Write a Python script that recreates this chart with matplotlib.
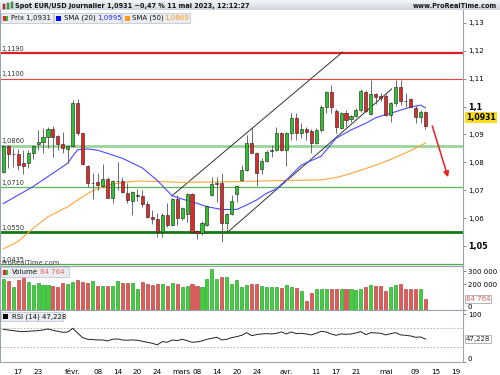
import matplotlib
matplotlib.use('Agg')
import matplotlib.pyplot as plt
import numpy as np
from matplotlib.patches import Rectangle
from matplotlib.transforms import blended_transform_factory
from matplotlib.colors import LinearSegmentedColormap

# ---------------- data ----------------
opens = [1.0767, 1.0858, 1.0829, 1.0829, 1.0799, 1.0796, 1.0832, 1.0866, 1.0872, 1.0890,
         1.0919, 1.0894, 1.0866, 1.0848, 1.0858, 1.1011, 1.0904, 1.0787, 1.0725, 1.0728,
         1.0715, 1.0739, 1.0673, 1.0732, 1.0733, 1.0691, 1.0663, 1.0680, 1.0680, 1.0651,
         1.0605, 1.0597, 1.0551, 1.0611, 1.0575, 1.0668, 1.0599, 1.0615, 1.0685, 1.0553,
         1.0545, 1.0575, 1.0683, 1.0722, 1.0725, 1.0581, 1.0615, 1.0686, 1.0737, 1.0772,
         1.0868, 1.0835, 1.0775, 1.0806, 1.0841, 1.0844, 1.0904, 1.0844, 1.0906, 1.0958,
         1.0904, 1.0919, 1.0912, 1.0868, 1.0916, 1.0999, 1.1051, 1.0985, 1.0922, 1.0976,
         1.0954, 1.0967, 1.0988, 1.1052, 1.0973, 1.1045, 1.1038, 1.1038, 1.0970, 1.1011,
         1.1069, 1.1021, 1.1027, 1.0994, 1.0964, 1.0982]
highs = [1.0862, 1.0862, 1.0850, 1.0848, 1.0844, 1.0844, 1.0861, 1.0916, 1.0922, 1.0925,
         1.0930, 1.0898, 1.0910, 1.0861, 1.1025, 1.1026, 1.0906, 1.0791, 1.0763, 1.0761,
         1.0793, 1.0746, 1.0737, 1.0802, 1.0746, 1.0725, 1.0698, 1.0703, 1.0701, 1.0663,
         1.0629, 1.0617, 1.0617, 1.0653, 1.0671, 1.0683, 1.0641, 1.0689, 1.0691, 1.0557,
         1.0591, 1.0647, 1.0749, 1.0749, 1.0761, 1.0620, 1.0683, 1.0719, 1.0790, 1.0898,
         1.0928, 1.0838, 1.0814, 1.0844, 1.0862, 1.0925, 1.0910, 1.0910, 1.0976, 1.0976,
         1.0940, 1.0928, 1.0918, 1.0922, 1.1005, 1.1057, 1.1077, 1.0990, 1.0980, 1.0988,
         1.0970, 1.0994, 1.1062, 1.1060, 1.1095, 1.1050, 1.1047, 1.1045, 1.1017, 1.1095,
         1.1095, 1.1050, 1.1030, 1.1002, 1.0988, 1.0985]
lows = [1.0763, 1.0778, 1.0784, 1.0772, 1.0757, 1.0778, 1.0811, 1.0844, 1.0832, 1.0850,
        1.0818, 1.0844, 1.0835, 1.0799, 1.0855, 1.0898, 1.0790, 1.0710, 1.0667, 1.0701,
        1.0713, 1.0671, 1.0655, 1.0701, 1.0689, 1.0653, 1.0611, 1.0661, 1.0639, 1.0602,
        1.0579, 1.0533, 1.0533, 1.0569, 1.0573, 1.0575, 1.0593, 1.0587, 1.0545, 1.0524,
        1.0539, 1.0572, 1.0679, 1.0659, 1.0516, 1.0551, 1.0611, 1.0659, 1.0734, 1.0770,
        1.0832, 1.0715, 1.0758, 1.0802, 1.0818, 1.0842, 1.0840, 1.0788, 1.0880, 1.0880,
        1.0886, 1.0880, 1.0832, 1.0866, 1.0910, 1.0978, 1.0976, 1.0904, 1.0918, 1.0928,
        1.0943, 1.0964, 1.0982, 1.0980, 1.0970, 1.1010, 1.1021, 1.0966, 1.0943, 1.1002,
        1.1005, 1.0997, 1.0997, 1.0942, 1.0942, 1.0918]
closes = [1.0858, 1.0830, 1.0831, 1.0790, 1.0788, 1.0832, 1.0857, 1.0874, 1.0890, 1.0921,
          1.0892, 1.0866, 1.0850, 1.0858, 1.1013, 1.0904, 1.0793, 1.0727, 1.0727, 1.0719,
          1.0739, 1.0673, 1.0733, 1.0733, 1.0692, 1.0665, 1.0695, 1.0681, 1.0651, 1.0605,
          1.0596, 1.0551, 1.0611, 1.0575, 1.0668, 1.0599, 1.0637, 1.0685, 1.0551, 1.0546,
          1.0584, 1.0643, 1.0722, 1.0725, 1.0581, 1.0614, 1.0661, 1.0716, 1.0772, 1.0868,
          1.0835, 1.0761, 1.0806, 1.0838, 1.0843, 1.0904, 1.0844, 1.0906, 1.0958, 1.0904,
          1.0919, 1.0907, 1.0868, 1.0916, 1.0999, 1.1051, 1.0997, 1.0925, 1.0976, 1.0952,
          1.0967, 1.0988, 1.1057, 1.0985, 1.1045, 1.1033, 1.1029, 1.0970, 1.1011, 1.1069,
          1.1021, 1.1020, 1.0997, 1.0964, 1.0982, 1.0931]
volumes = [243, 227, 181, 235, 262, 219, 195, 208, 192, 192,
           186, 181, 205, 203, 216, 232, 216, 208, 224, 189,
           189, 189, 186, 224, 208, 208, 208, 159, 214, 203,
           192, 203, 203, 189, 208, 200, 181, 189, 200, 189,
           181, 240, 316, 240, 257, 257, 203, 230, 176, 195,
           203, 200, 186, 176, 176, 176, 168, 195, 176, 168,
           146, 68, 135, 159, 159, 159, 159, 159, 159, 159,
           159, 154, 159, 176, 192, 189, 189, 149, 176, 192,
           203, 159, 159, 159, 159, 84.764]  # thousands
rsi = [67.9, 66.5, 65.1, 63.7, 63.0, 63.7, 64.4, 65.1, 66.5, 68.6,
       65.8, 63.7, 61.6, 62.3, 70.0, 59.5, 50.4, 46.9, 46.2, 45.5,
       45.5, 43.4, 46.9, 47.6, 45.5, 44.8, 45.5, 44.8, 42.7, 40.6,
       38.5, 35.0, 42.0, 40.6, 45.5, 44.1, 46.9, 44.1, 40.6, 41.3,
       43.4, 46.9, 49.0, 51.1, 45.5, 46.9, 50.4, 52.5, 55.3, 60.9,
       54.6, 56.7, 58.1, 58.8, 58.1, 59.5, 62.3, 58.1, 62.3, 58.8,
       59.5, 58.1, 56.0, 59.5, 63.7, 62.3, 58.1, 55.3, 58.1, 57.4,
       58.1, 60.2, 63.0, 56.7, 60.9, 60.2, 59.5, 56.0, 58.8, 60.9,
       56.0, 55.3, 53.9, 51.1, 51.8, 47.228]
sma20_idx = [0, 6, 9, 13, 14, 15, 17, 19, 21, 24, 28, 31, 34, 37, 39, 41, 44, 47, 49,
             51, 53, 55, 57, 60, 64, 67, 70, 73, 75, 78, 82, 84, 85]
sma20_val = [1.0652, 1.0713, 1.0749, 1.0797, 1.0823, 1.0845, 1.0848, 1.0843, 1.0832,
             1.0814, 1.0780, 1.0735, 1.0680, 1.0663, 1.0653, 1.0641, 1.0631, 1.0631,
             1.0647, 1.0665, 1.0689, 1.0705, 1.0737, 1.0790, 1.0822, 1.0886, 1.0916,
             1.0940, 1.0960, 1.0976, 1.0998, 1.1005, 1.0995]
sma50_idx = [0, 3, 6, 9, 13, 16, 18, 21, 24, 27, 31, 36, 45, 54, 64, 67, 70, 72, 75, 78, 82, 85]
sma50_val = [1.0490, 1.0516, 1.0563, 1.0605, 1.0641, 1.0677, 1.0698, 1.0719, 1.0727,
             1.0733, 1.0731, 1.0728, 1.0730, 1.0734, 1.0737, 1.0745, 1.0760, 1.0772,
             1.0790, 1.0810, 1.0842, 1.0869]
levels = [1.1190, 1.1100, 1.0860, 1.0710, 1.0550, 1.0435]
level_labels = ['1,1190', '1,1100', '1,0860', '1,0710', '1,0550', '1,0435']
price_ticks = [1.05, 1.06, 1.07, 1.08, 1.09, 1.10, 1.11, 1.12, 1.13]
price_tick_labels = ['1,05', '1,06', '1,07', '1,08', '1,09', '1,1', '1,11', '1,12', '1,13']
date_idx = [3, 7, 14, 19, 23, 27, 31, 34, 39, 43, 47, 51, 57, 63, 67, 71, 77, 83, 87, 91]
date_labels = ['17', '23', 'févr.', '08', '14', '20', '24', 'mars', '08', '14', '20', '24',
               'avr.', '11', '17', '21', 'mai', '09', '15', '19']
channel_upper = ([33.9, 68.3], [1.0679, 1.1195])
channel_lower = ([45.2, 78.2], [1.0550, 1.1063])
arrow_pts = ([86.2, 89.7], [1.0940, 1.0737])
last_price = 1.0931

# ---------------- figure ----------------
W, H = 500, 375
plt.rcParams['font.family'] = ['DejaVu Sans']
fig = plt.figure(figsize=(5, 3.75), dpi=100)
fig.patch.set_facecolor('white')

def rect(x0, y0, x1, y1):
    return [x0 / W, 1 - y1 / H, (x1 - x0) / W, (y1 - y0) / H]

def fx(x):
    return x / W

def fy(y):
    return 1 - y / H

opens = np.array(opens); highs = np.array(highs); lows = np.array(lows); closes = np.array(closes)
n = len(closes)
idx = np.arange(n)
up = closes >= opens
GREEN = '#2fc42f'
RED = '#e02a2a'
XL = (-0.66, 92.55)
SPINE = '#9aa4ae'
FS = 5.0
LFS = 5.0

ax = fig.add_axes(rect(0, 10, 463, 266))
axv = fig.add_axes(rect(0, 266, 463, 310))
axr = fig.add_axes(rect(0, 310, 463, 362))

for a in (ax, axv, axr):
    a.set_xlim(*XL)
    a.set_facecolor('white')
    for s in a.spines.values():
        s.set_color(SPINE)
        s.set_linewidth(0.8)
    a.tick_params(axis='y', which='both', left=False, labelleft=False, right=True,
                  labelright=True, length=2, width=0.6, color='#777777', pad=1.5,
                  labelsize=FS)
    a.tick_params(axis='x', bottom=False, labelbottom=False)
ax.spines['top'].set_visible(False)

# main panel
ax.set_ylim(1.04283, 1.13459)
ax.set_yticks(price_ticks)
ax.set_yticklabels(price_tick_labels)
for lab in ax.get_yticklabels():
    if lab.get_text() in ('1,1', '1,05'):
        lab.set_fontweight('bold')
        lab.set_fontsize(5.8)

level_styles = [('#e02020', 1.6, 1.0), ('#f04040', 0.8, 1.0), ('#8fd08f', 2.0, 0.9),
                ('#5cb85c', 0.9, 1.0), ('#137a13', 2.0, 1.0), ('#4caf4c', 0.9, 1.0)]
for v, lab, (c, lw, al) in zip(levels, level_labels, level_styles):
    ax.axhline(v, color=c, lw=lw, alpha=al, zorder=1)
    ax.text(-0.35, v + 0.0004, lab, fontsize=4.8, color='#333333', va='bottom', ha='left', zorder=2)

ax.text(-0.4, 1.0429, 'ProRealTime.com', fontsize=4.9, color='#444444', va='bottom', ha='left', zorder=2)

ax.plot(*channel_upper, color='#333333', lw=0.7, zorder=2)
ax.plot(*channel_lower, color='#333333', lw=0.7, zorder=2)

ax.plot(sma50_idx, sma50_val, color='#ffa53a', lw=0.8, zorder=2)
ax.plot(sma20_idx, sma20_val, color='#4a4aff', lw=0.8, zorder=2)

ax.vlines(idx, lows, highs, color='#555555', lw=0.6, zorder=3)
bottoms = np.minimum(opens, closes)
heights = np.maximum(np.abs(closes - opens), 0.00009)
ax.bar(idx, heights, bottom=bottoms, width=0.62,
       color=np.where(up, GREEN, RED), edgecolor='#1a1a1a', linewidth=0.4, zorder=4)

ax.annotate('', xy=(arrow_pts[0][1], arrow_pts[1][1]), xytext=(arrow_pts[0][0], arrow_pts[1][0]),
            arrowprops=dict(arrowstyle='-|>', color='#e82020', lw=1.1, mutation_scale=8), zorder=5)

trans = blended_transform_factory(ax.transAxes, ax.transData)
ax.text(1.006, last_price + 0.003, '1,0931', transform=trans, fontsize=5.6, fontweight='bold',
        va='center', ha='left', color='black', zorder=6,
        bbox=dict(boxstyle='square,pad=0.15', fc='#f7dc1e', ec='none'), clip_on=False)

# volume panel
axv.set_ylim(0, 340)
vol_colors = np.where(up, '#3cd23c', '#e25a5a')
vol_edges = np.where(up, '#1d8a1d', '#a82a2a')
axv.bar(idx, volumes, width=0.62, color=vol_colors, edgecolor=vol_edges, linewidth=0.4, zorder=3)
axv.set_yticks([0, 200, 300])
axv.set_yticklabels(['0', '200 000', '300 000'])
axv.get_yticklabels()[0].set_verticalalignment('bottom')
transv = blended_transform_factory(axv.transAxes, axv.transData)
axv.text(1.006, volumes[-1], '84 764', transform=transv, fontsize=FS, color='#e05a5a',
         va='center', ha='left', zorder=6,
         bbox=dict(boxstyle='square,pad=0.15', fc='white', ec='#999999', lw=0.5), clip_on=False)

# RSI panel
axr.set_ylim(-1, 108.6)
axr.axhline(70, color='#aaaaaa', lw=0.6, ls=(0, (2, 2)))
axr.axhline(30, color='#aaaaaa', lw=0.6, ls=(0, (2, 2)))
axr.plot(idx, rsi, color='#222222', lw=0.7, zorder=3)
axr.set_yticks([0, 100])
axr.set_yticklabels(['0', '100'])
axr.get_yticklabels()[0].set_verticalalignment('bottom')
transr = blended_transform_factory(axr.transAxes, axr.transData)
axr.text(1.006, rsi[-1], '47,228', transform=transr, fontsize=FS, color='#222222',
         va='center', ha='left', zorder=6,
         bbox=dict(boxstyle='square,pad=0.15', fc='white', ec='#999999', lw=0.5), clip_on=False)
axr.set_xticks(date_idx)
axr.set_xticklabels(date_labels)
axr.tick_params(axis='x', bottom=False, labelbottom=True, labelsize=5.2, pad=1.5)
for lab in axr.get_xticklabels():
    if lab.get_text() == 'mars':
        lab.set_horizontalalignment('left')

# ---------------- header ----------------
axt = fig.add_axes(rect(0, 0, 500, 10))
grad = np.linspace(0, 1, 20).reshape(-1, 1)
cm = LinearSegmentedColormap.from_list('g', ['#f3f5f8', '#cfd7e0'])
axt.imshow(grad, aspect='auto', cmap=cm, extent=[0, 1, 0, 1])
axt.set_xlim(0, 1); axt.set_ylim(0, 1)
axt.axis('off')
fig.add_artist(Rectangle((fx(2.5), fy(8.5)), 2.2 / W, 5 / H, transform=fig.transFigure, fc=RED, ec='#333333', lw=0.3))
fig.add_artist(Rectangle((fx(6.5), fy(9)), 2.2 / W, 6.5 / H, transform=fig.transFigure, fc=GREEN, ec='#333333', lw=0.3))
fig.add_artist(Rectangle((fx(10.5), fy(8)), 2.2 / W, 5.5 / H, transform=fig.transFigure, fc=GREEN, ec='#333333', lw=0.3))
fig.text(fx(15), fy(5.6), 'Spot EUR/USD Journalier 1,0931 \u22120,47 % 11 mai 2023, 12:12:27',
         fontsize=4.7, fontweight='bold', va='center', ha='left', color='#111111')
fig.text(fx(497), fy(5.6), 'www.ProRealTime.com', fontsize=4.7, fontweight='bold',
         va='center', ha='right', color='#111111')

# legend boxes
def legend_box(x0, x1, y0, y1):
    fig.add_artist(Rectangle((fx(x0), fy(y1)), (x1 - x0) / W, (y1 - y0) / H,
                             transform=fig.transFigure, fc='#e9edf1', ec='#b8c0c8', lw=0.5, zorder=10))

def square(x, y, c, w=5, h=5):
    fig.add_artist(Rectangle((fx(x), fy(y + h)), w / W, h / H, transform=fig.transFigure,
                             fc=c, ec='none', zorder=11))

legend_box(0.5, 52.5, 13, 22.5)
square(3, 15.5, RED, w=2.5)
square(5.5, 15.5, GREEN, w=2.5)
fig.text(fx(11), fy(17.8), 'Prix 1,0931', fontsize=LFS, va='center', ha='left', color='#111111', zorder=12)
legend_box(53.5, 121, 13, 22.5)
square(56, 15.5, '#0000ff')
fig.text(fx(64), fy(17.8), 'SMA (20)', fontsize=LFS, va='center', ha='left', color='#111111', zorder=12)
fig.text(fx(97), fy(17.8), '1,0995', fontsize=LFS, va='center', ha='left', color='#2828ff', zorder=12)
legend_box(122, 190, 13, 22.5)
square(124.5, 15.5, '#ff9a1a')
fig.text(fx(132), fy(17.8), 'SMA (50)', fontsize=LFS, va='center', ha='left', color='#111111', zorder=12)
fig.text(fx(164), fy(17.8), '1,0869', fontsize=LFS, va='center', ha='left', color='#ff9a1a', zorder=12)

legend_box(0.5, 69, 267, 276.5)
square(3, 269.5, RED, w=2.5)
square(5.5, 269.5, GREEN, w=2.5)
fig.text(fx(11.5), fy(271.8), 'Volume', fontsize=LFS, va='center', ha='left', color='#111111', zorder=12)
fig.text(fx(40), fy(271.8), '84 764', fontsize=LFS, va='center', ha='left', color='#e86060', zorder=12)

legend_box(0.5, 63, 311.5, 321)
square(3, 314, '#000000')
fig.text(fx(11.5), fy(316.3), 'RSI (14) 47,228', fontsize=LFS, va='center', ha='left', color='#111111', zorder=12)

fig.savefig('out.png', dpi=100)
